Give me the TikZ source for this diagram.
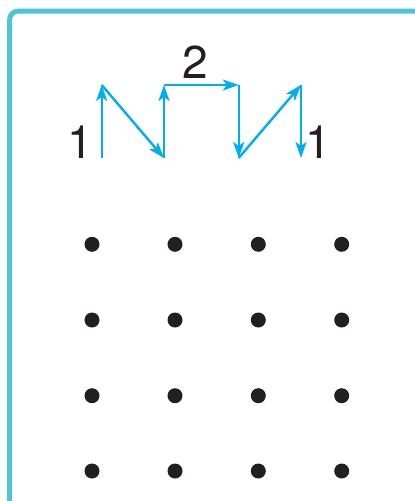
\documentclass[tikz,border=0pt]{standalone}
\usepackage{fontspec}
\setmainfont{TeX Gyre Heros}
\usetikzlibrary{arrows.meta}
\definecolor{framecyan}{HTML}{50C4D6}
\definecolor{movecyan}{HTML}{00AEEF}
\definecolor{dotblack}{HTML}{231F20}
\tikzset{
  move/.style={line width=2.4pt, movecyan, -{Stealth[length=16pt, width=11pt, inset=4pt]}},
  steplabel/.style={anchor=base, inner sep=0pt, font=\fontsize{46}{46}\selectfont, dotblack},
}

\begin{document}
\begin{tikzpicture}[x=1pt, y=-1pt]
  \useasboundingbox (0,0) rectangle (415,501);
  \clip (0,0) rectangle (415,501);
  \draw[framecyan, line width=5pt, rounded corners=9pt] (9.5,520) -- (9.5,11) -- (430,11);

  % corners of the path
  \coordinate (p0) at (101.7,158);
  \coordinate (p1) at (101.7,85);
  \coordinate (p2) at (164,158);
  \coordinate (p3) at (164,85);
  \coordinate (p4) at (238.7,85);
  \coordinate (p5) at (238.7,158);
  \coordinate (p6) at (301,85);
  \coordinate (p7) at (301,158);

  \draw[move] (p0) -- (p1);
  \draw[move] (p1) -- (p2);
  \draw[move] (p2) -- (p3);
  \draw[move] (p3) -- (p4);
  \draw[move] (p4) -- (p5);
  \draw[move] (p5) -- (p6);
  \draw[move] (p6) -- (p7);

  \node[steplabel] (up) at (80,158) {1};
  \node[steplabel] (across) at (195,78) {2};
  \node[steplabel] (down) at (318,158) {1};

  % grid of dots
  \foreach \row/\y in {1/244.3, 2/320, 3/395.7, 4/471}
    \foreach \col/\x in {1/92, 2/175, 3/258.3, 4/341.7}
      \fill[dotblack] (\x,\y) circle (7.5pt);
\end{tikzpicture}
\end{document}
